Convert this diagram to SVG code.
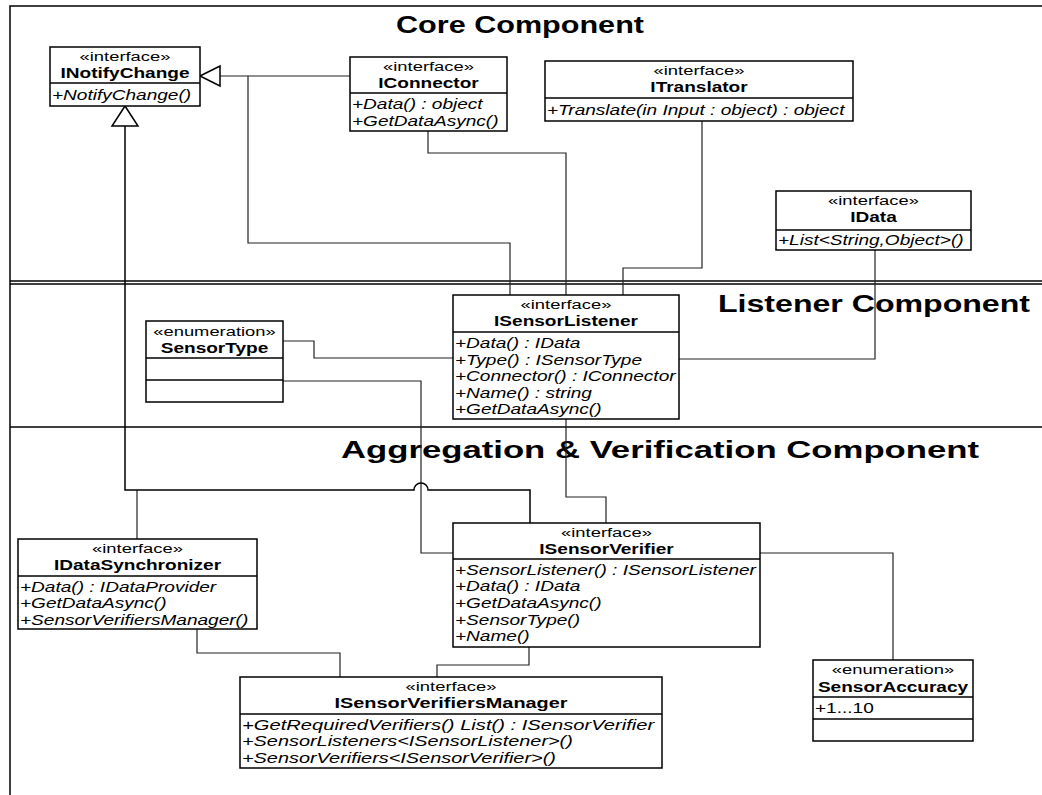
<svg xmlns="http://www.w3.org/2000/svg" width="1042" height="795" viewBox="0 0 1042 795">
  <style>
    text { font-family: "Liberation Sans", Arial, sans-serif; fill: #000; }
    .box { fill: #fff; stroke: #000; stroke-width: 1.5; }
    .sep { stroke: #000; stroke-width: 1.5; }
    .frame { fill: none; stroke: #000; stroke-width: 1.5; }
    .conn { fill: none; stroke: #222; stroke-width: 1.2; }
    .gen { fill: none; stroke: #000; stroke-width: 1.5; }
    .tri { fill: #fff; stroke: #000; stroke-width: 1.5; }
    .st { font-size: 13.5px; text-anchor: middle; }
    .nm { font-size: 14px; font-weight: bold; text-anchor: middle; }
    .op { font-size: 14px; font-style: italic; }
    .lit { font-size: 14px; }
    .title { font-size: 23px; font-weight: bold; }
  </style>

  <!-- frame and component bands -->
  <g id="frame">
    <path class="frame" d="M10,795 V6 H1042"/>
    <line class="sep" x1="10" y1="281" x2="1042" y2="281" stroke-width="1"/>
    <line class="sep" x1="10" y1="284" x2="1042" y2="284" stroke-width="1"/>
    <line class="sep" x1="10" y1="427" x2="1042" y2="427"/>
    <text class="title" x="396" y="33" textLength="248" lengthAdjust="spacingAndGlyphs">Core Component</text>
    <text class="title" x="718" y="312" textLength="312" lengthAdjust="spacingAndGlyphs">Listener Component</text>
    <text class="title" x="341" y="458" textLength="638" lengthAdjust="spacingAndGlyphs">Aggregation &amp; Verification Component</text>
  </g>

  <!-- connectors -->
  <g id="connectors">
    <path class="conn" d="M350,76 H220"/>
    <path class="conn" d="M510,295 V243 H248 V76"/>
    <path class="conn" d="M428,131 V153 H566 V295"/>
    <path class="conn" d="M702,121 V268 H623 V295"/>
    <path class="conn" d="M875,250 V359 H679"/>
    <path class="conn" d="M283,341 H314 V358 H453"/>
    <path class="conn" d="M283,381 H421 V553 H453"/>
    <path class="conn" d="M566,419 V497 H606 V523"/>
    <path class="conn" d="M760,553 H893 V660"/>
    <path class="conn" d="M197,629 V653 H340 V677"/>
    <path class="conn" d="M529,647 V665 H437 V677"/>
    <path class="conn" d="M137,539 V490"/>
    <path class="gen" d="M530,523 V490 H428 A7,7 0 0 0 414,490 H125 V126"/>
    <polygon class="tri" points="200,76 220,66 220,86"/>
    <polygon class="tri" points="125,106 112,126 138,126"/>
  </g>

  <g id="INotifyChange">
    <rect class="box" x="50" y="47" width="150" height="59"/>
    <line class="sep" x1="50" y1="83" x2="200" y2="83"/>
    <text class="st" transform="translate(125 61) scale(1.36 1)">«interface»</text>
    <text class="nm" transform="translate(125 78) scale(1.36 1)">INotifyChange</text>
    <text class="op" transform="translate(52 100) scale(1.36 1)">+NotifyChange()</text>
  </g>

  <g id="IConnector">
    <rect class="box" x="350" y="57" width="157" height="74"/>
    <line class="sep" x1="350" y1="93" x2="507" y2="93"/>
    <text class="st" transform="translate(428.5 71) scale(1.36 1)">«interface»</text>
    <text class="nm" transform="translate(428.5 88) scale(1.36 1)">IConnector</text>
    <text class="op" transform="translate(352 109) scale(1.36 1)">+Data() : object</text>
    <text class="op" transform="translate(352 126) scale(1.36 1)">+GetDataAsync()</text>
  </g>

  <g id="ITranslator">
    <rect class="box" x="545" y="61" width="308" height="60"/>
    <line class="sep" x1="545" y1="98" x2="853" y2="98"/>
    <text class="st" transform="translate(699 75) scale(1.36 1)">«interface»</text>
    <text class="nm" transform="translate(699 92) scale(1.36 1)">ITranslator</text>
    <text class="op" transform="translate(547 115) scale(1.36 1)">+Translate(in Input : object) : object</text>
  </g>

  <g id="IData">
    <rect class="box" x="776" y="191" width="195" height="59"/>
    <line class="sep" x1="776" y1="230" x2="971" y2="230"/>
    <text class="st" transform="translate(873.5 205) scale(1.36 1)">«interface»</text>
    <text class="nm" transform="translate(873.5 222) scale(1.36 1)">IData</text>
    <text class="op" transform="translate(778 245) scale(1.36 1)">+List&lt;String,Object&gt;()</text>
  </g>

  <g id="SensorType">
    <rect class="box" x="146" y="321" width="137" height="81"/>
    <line class="sep" x1="146" y1="358" x2="283" y2="358"/>
    <line class="sep" x1="146" y1="380" x2="283" y2="380"/>
    <text class="st" transform="translate(214.5 336) scale(1.36 1)">«enumeration»</text>
    <text class="nm" transform="translate(214.5 353) scale(1.36 1)">SensorType</text>
  </g>

  <g id="ISensorListener">
    <rect class="box" x="453" y="295" width="226" height="124"/>
    <line class="sep" x1="453" y1="332" x2="679" y2="332"/>
    <text class="st" transform="translate(566 309) scale(1.36 1)">«interface»</text>
    <text class="nm" transform="translate(566 326) scale(1.36 1)">ISensorListener</text>
    <text class="op" transform="translate(455 348) scale(1.36 1)">+Data() : IData</text>
    <text class="op" transform="translate(455 365) scale(1.36 1)">+Type() : ISensorType</text>
    <text class="op" transform="translate(455 381) scale(1.36 1)">+Connector() : IConnector</text>
    <text class="op" transform="translate(455 398) scale(1.36 1)">+Name() : string</text>
    <text class="op" transform="translate(455 414) scale(1.36 1)">+GetDataAsync()</text>
  </g>

  <g id="ISensorVerifier">
    <rect class="box" x="453" y="523" width="307" height="124"/>
    <line class="sep" x1="453" y1="559" x2="760" y2="559"/>
    <text class="st" transform="translate(606.5 537) scale(1.36 1)">«interface»</text>
    <text class="nm" transform="translate(606.5 554) scale(1.36 1)">ISensorVerifier</text>
    <text class="op" transform="translate(455 575) scale(1.36 1)">+SensorListener() : ISensorListener</text>
    <text class="op" transform="translate(455 591) scale(1.36 1)">+Data() : IData</text>
    <text class="op" transform="translate(455 608) scale(1.36 1)">+GetDataAsync()</text>
    <text class="op" transform="translate(455 625) scale(1.36 1)">+SensorType()</text>
    <text class="op" transform="translate(455 641) scale(1.36 1)">+Name()</text>
  </g>

  <g id="IDataSynchronizer">
    <rect class="box" x="18" y="539" width="239" height="90"/>
    <line class="sep" x1="18" y1="576" x2="257" y2="576"/>
    <text class="st" transform="translate(137.5 553) scale(1.36 1)">«interface»</text>
    <text class="nm" transform="translate(137.5 570) scale(1.36 1)">IDataSynchronizer</text>
    <text class="op" transform="translate(20 592) scale(1.36 1)">+Data() : IDataProvider</text>
    <text class="op" transform="translate(20 608) scale(1.36 1)">+GetDataAsync()</text>
    <text class="op" transform="translate(20 625) scale(1.36 1)">+SensorVerifiersManager()</text>
  </g>

  <g id="ISensorVerifiersManager">
    <rect class="box" x="240" y="677" width="422" height="91"/>
    <line class="sep" x1="240" y1="714" x2="662" y2="714"/>
    <text class="st" transform="translate(451 691) scale(1.36 1)">«interface»</text>
    <text class="nm" transform="translate(451 708) scale(1.42 1)">ISensorVerifiersManager</text>
    <text class="op" transform="translate(242 730) scale(1.44 1)">+GetRequiredVerifiers() List() : ISensorVerifier</text>
    <text class="op" transform="translate(242 746) scale(1.42 1)">+SensorListeners&lt;ISensorListener&gt;()</text>
    <text class="op" transform="translate(242 763) scale(1.42 1)">+SensorVerifiers&lt;ISensorVerifier&gt;()</text>
  </g>

  <g id="SensorAccuracy">
    <rect class="box" x="813" y="660" width="160" height="81"/>
    <line class="sep" x1="813" y1="697" x2="973" y2="697"/>
    <line class="sep" x1="813" y1="719" x2="973" y2="719"/>
    <text class="st" transform="translate(893 674) scale(1.36 1)">«enumeration»</text>
    <text class="nm" transform="translate(893 692) scale(1.36 1)">SensorAccuracy</text>
    <text class="lit" transform="translate(815 713) scale(1.36 1)">+1...10</text>
  </g>
</svg>
